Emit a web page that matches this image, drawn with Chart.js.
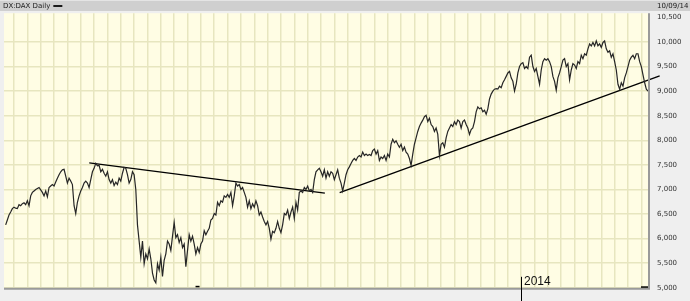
<!DOCTYPE html>
<html>
<head>
<meta charset="utf-8">
<script src="https://cdn.jsdelivr.net/npm/chart.js@4.4.1/dist/chart.umd.min.js"></script>
<style>
  html, body { margin: 0; padding: 0; background: #efefef; }
  #wrap { width: 690px; height: 301px; position: relative; }
</style>
</head>
<body>
<div id="wrap"><canvas id="c" width="690" height="301"></canvas></div>
<script>
// ---- data (DAX daily, sampled 8 points per month) ----
const title = 'DX:DAX Daily';
const dateLabel = '10/09/14';
const yearLabel = '2014';
const samplesPerMonth = 8;
const firstMonthIndex = 5;        // sample index of first month boundary (Nov 2010)
const yearMonthNumber = 38;        // months after first boundary -> Jan 2014
const yTicks = [5000, 5500, 6000, 6500, 7000, 7500, 8000, 8500, 9000, 9500, 10000, 10500];
const yMin = 5000;
const yMax = 10585;
const xMin = -1;
const xMax = 385;

const closes = [
6280,6380,6480,6540,6610,6640,6620,6610,6690,6670,6710,6730,6690,6770,6670,6870,6940,6970,7000,7020,
7040,6990,6940,6870,6970,6850,7040,7070,7100,7070,7150,7230,7300,7360,7400,7410,7270,7130,7230,7170,
7100,6670,6510,6740,6870,6970,7040,7130,7170,7130,7040,7200,7360,7430,7530,7480,7490,7360,7410,7330,
7270,7360,7200,7130,7200,7080,7150,7100,7230,7170,7330,7450,7430,7300,7130,7200,7360,7300,7000,6280,
5950,5620,5950,5490,5690,5590,5790,5590,5300,5160,5100,5490,5360,5620,5230,5560,5690,5950,5890,5760,
6050,6330,6020,6080,5920,6020,5820,5890,5430,5760,6080,5950,6050,5890,5690,5820,5720,5890,5950,6160,
6080,6150,6210,6380,6410,6510,6480,6740,6670,6770,6740,6870,6840,6900,6840,6940,6670,6870,7130,7070,
7100,7000,7040,6940,6840,6640,6770,6610,6710,6640,6770,6670,6480,6540,6440,6350,6280,6350,6210,5990,
6150,6120,6210,6350,6210,6120,6280,6510,6480,6580,6410,6540,6640,6410,6740,6580,6940,6970,6940,7040,
7000,7070,6970,7000,6940,7200,7360,7400,7430,7360,7270,7400,7230,7360,7270,
7360,7330,7200,7300,7400,7230,7130,6970,7130,7300,7400,7460,7530,7590,7630,7590,7660,7690,7660,7760,
7690,7720,7690,7710,7690,7790,7820,7720,7790,7590,7660,7630,7690,7590,7720,7660,7920,8020,7950,7990,
7920,7860,7920,7790,7860,7760,7720,7630,7490,7720,7920,8050,8180,8280,8350,8410,8480,8510,8380,8450,
8320,8280,8180,8250,8120,7690,7920,7950,7860,8050,8180,8250,8320,8280,8380,8320,8410,8380,8250,8380,
8410,8320,8250,8120,8220,8250,8380,8580,8680,8640,8660,8580,8610,8530,8640,8840,8940,9000,9040,9050,
9040,9100,9070,9170,9230,9300,9370,9400,9270,9200,9000,9140,9370,9500,9560,9580,9460,9500,9460,9690,
9730,9500,9400,9460,9300,9140,9430,9600,9660,9630,9660,9600,9500,9300,9200,9020,9270,9370,9500,9630,
9660,9500,9560,9230,9430,9560,9530,9460,9600,9560,9730,9660,9760,9730,9860,9960,9920,9990,9920,10020,
9920,9960,9890,9990,10020,9860,9790,9820,9690,9760,9600,9430,9140,9040,9170,9100,9270,9370,9500,9630,
9690,9730,9660,9760,9760,9600,9500,9330,9170,9040,9000
];

// trend lines: [sample index, value]
const resistanceLine = [[50.1, 7540], [191.3, 6924]];
const supportLine = [[200.2, 6935], [392.0, 9312]];

// ---- chart ----
const pricePoints = closes.map((v, i) => ({ x: i, y: v }));
const toPts = arr => arr.map(p => ({ x: p[0], y: p[1] }));

const decorPlugin = {
  id: 'decor',
  beforeDraw(chart) {
    const ctx = chart.ctx, a = chart.chartArea;
    ctx.save();
    ctx.fillStyle = '#efefef';
    ctx.fillRect(0, 0, chart.width, chart.height);
    // header bar
    ctx.fillStyle = '#cfcfcf';
    ctx.fillRect(0, 0, chart.width, 11);
    ctx.fillStyle = '#e4e4e4';
    ctx.fillRect(0, 0, chart.width, 1);
    ctx.fillStyle = '#1a1a1a';
    ctx.font = '7px "DejaVu Sans"';
    ctx.textBaseline = 'middle';
    ctx.textAlign = 'left';
    ctx.fillText(title, 3, 6);
    const tw = ctx.measureText(title).width;
    ctx.fillRect(3 + tw + 3, 5, 9, 2);
    ctx.fillText(dateLabel, 657, 6);
    // plot background
    ctx.fillStyle = '#fffde4';
    ctx.fillRect(a.left, a.top, a.right - a.left, a.bottom - a.top);
    ctx.restore();
  },
  afterDraw(chart) {
    const ctx = chart.ctx, a = chart.chartArea;
    const xs = chart.scales.x, ys = chart.scales.y;
    ctx.save();
    // borders
    ctx.strokeStyle = '#9a9a9a';
    ctx.lineWidth = 2;
    ctx.beginPath();
    ctx.moveTo(a.left, a.bottom + 1);
    ctx.lineTo(a.right + 1, a.bottom + 1);
    ctx.moveTo(a.right + 1, a.top);
    ctx.lineTo(a.right + 1, a.bottom + 2);
    ctx.stroke();
    // year marker
    const yx = Math.round(xs.getPixelForValue(firstMonthIndex + yearMonthNumber * samplesPerMonth)) + 0.5;
    ctx.strokeStyle = '#000';
    ctx.lineWidth = 1;
    ctx.beginPath();
    ctx.moveTo(yx, a.bottom - 11);
    ctx.lineTo(yx, chart.height);
    ctx.stroke();
    ctx.fillStyle = '#111';
    ctx.font = '12px "Liberation Sans", Arial, sans-serif';
    ctx.textAlign = 'left';
    ctx.textBaseline = 'alphabetic';
    ctx.fillText(yearLabel, yx + 2.5, a.bottom - 3);
    // small dashes at axis minimum
    ctx.fillStyle = '#000';
    const y0 = ys.getPixelForValue(yMin);
    ctx.fillRect(a.right - 7, y0 - 1.5, 7, 1.5);
    ctx.fillRect(xs.getPixelForValue(115) - 2, y0 - 2, 4, 1.5);
    ctx.restore();
  }
};

new Chart(document.getElementById('c'), {
  type: 'line',
  data: {
    datasets: [
      { data: pricePoints, borderColor: '#262626', borderWidth: 1.2, pointRadius: 0, tension: 0 },
      { data: toPts(resistanceLine), borderColor: '#000', borderWidth: 1.3, pointRadius: 0 },
      { data: toPts(supportLine), borderColor: '#000', borderWidth: 1.3, pointRadius: 0, clip: false }
    ]
  },
  options: {
    responsive: false,
    animation: false,
    events: [],
    layout: { padding: { left: 4, top: 12, right: 0, bottom: 6 } },
    plugins: { legend: { display: false }, tooltip: { enabled: false } },
    scales: {
      x: {
        type: 'linear', min: xMin, max: xMax,
        afterBuildTicks(s) {
          const t = [];
          for (let v = firstMonthIndex; v <= xMax; v += samplesPerMonth) t.push({ value: v });
          s.ticks = t;
        },
        afterFit(s) { s.height = 0; },
        ticks: { display: false },
        border: { display: false },
        grid: { color: '#e7e6bf', lineWidth: 1.5, drawTicks: false }
      },
      y: {
        position: 'right', min: yMin, max: yMax,
        afterBuildTicks(s) { s.ticks = yTicks.map(v => ({ value: v })); },
        afterFit(s) { s.width = 42; },
        border: { display: false },
        grid: {
          drawTicks: false, lineWidth: 1.5,
          color: c => (c.tick && c.tick.value > 10400) ? 'rgba(0,0,0,0)' : '#e7e6bf'
        },
        ticks: {
          padding: 9, color: '#333',
          font: { family: 'DejaVu Sans', size: 7 },
          callback: v => v.toLocaleString('en-US')
        }
      }
    }
  },
  plugins: [decorPlugin]
});
</script>
</body>
</html>
